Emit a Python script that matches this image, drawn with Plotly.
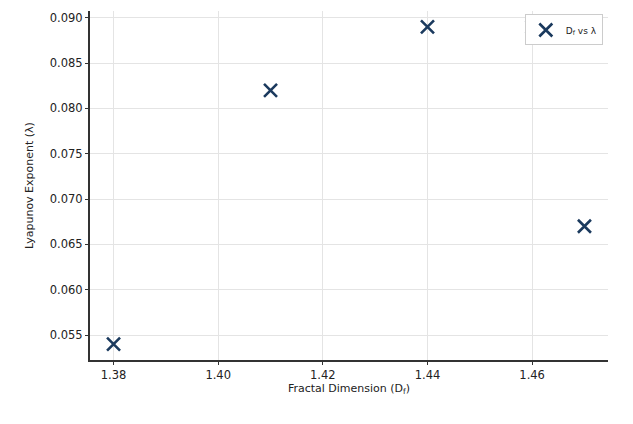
import plotly.graph_objects as go

# fractal dimension vs lyapunov exponent
fractal_dim = [1.38, 1.41, 1.44, 1.46, 1.47]
lyapunov = [0.054, 0.082, 0.089, 0.089, 0.067]
x_ticks = [1.38, 1.40, 1.42, 1.44, 1.46]
y_ticks = [0.055, 0.060, 0.065, 0.070, 0.075, 0.080, 0.085, 0.090]

fig = go.Figure()
fig.add_trace(go.Scatter(
    x=fractal_dim,
    y=lyapunov,
    mode='markers',
    name='D<sub>f</sub> vs λ',
    marker=dict(symbol='x-thin', size=13, color='#1b3a5e',
                line=dict(width=2.6, color='#1b3a5e'))
))

axis_font = dict(family='DejaVu Sans', size=11, color='#222222')
# page body adds an 8px margin, so margins are shifted to compensate
fig.update_layout(
    width=633,
    height=424,
    margin=dict(l=82, r=33, t=3, b=72),
    paper_bgcolor='white',
    plot_bgcolor='white',
    font=dict(family='DejaVu Sans', size=11.5, color='#222222'),
    showlegend=True,
    legend=dict(x=0.99, y=0.99, xanchor='right', yanchor='top',
                bgcolor='white', bordercolor='#cccccc', borderwidth=1,
                font=dict(size=9), itemwidth=30),
    xaxis=dict(
        title=dict(text='Fractal Dimension (D<sub>f</sub>)', font=axis_font, standoff=3),
        range=[1.3755, 1.4745],
        tickvals=x_ticks,
        ticktext=[f"{v:.2f}" for v in x_ticks],
        showgrid=True, gridcolor='#e4e4e4', gridwidth=1,
        showline=True, linecolor='#333333', linewidth=2,
        ticks='outside', ticklen=3, tickcolor='#333333',
        zeroline=False,
    ),
    yaxis=dict(
        title=dict(text='Lyapunov Exponent (λ)', font=axis_font, standoff=14),
        range=[0.05225, 0.09075],
        tickvals=y_ticks,
        ticktext=[f"{v:.3f}" for v in y_ticks],
        showgrid=True, gridcolor='#e4e4e4', gridwidth=1,
        showline=True, linecolor='#333333', linewidth=2,
        ticks='outside', ticklen=3, tickcolor='#333333',
        zeroline=False,
    ),
)

fig.write_html("out.html")
